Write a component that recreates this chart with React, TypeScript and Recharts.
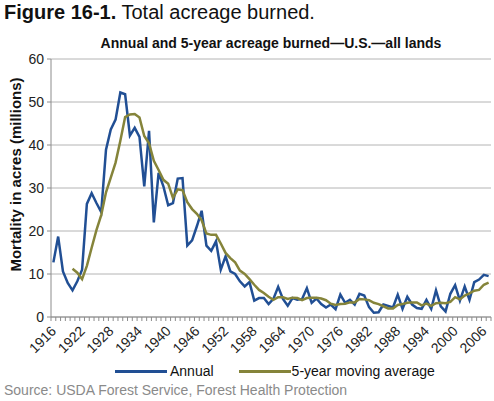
import { LineChart, Line, XAxis, YAxis, CartesianGrid } from 'recharts';

const FONT = '"Liberation Sans", Arial, Helvetica, sans-serif';

const FIRST_YEAR = 1916;
const LAST_YEAR = 2007;
const years = Array.from({ length: LAST_YEAR - FIRST_YEAR + 1 }, (_, i) => FIRST_YEAR + i);

// annual acreage burned, millions (1916-2007)
const annual = [
  12.7, 18.7, 10.6, 7.9, 6.2, 8.3, 11.0, 26.3, 28.8, 26.5,
  24.4, 38.9, 43.6, 45.9, 52.2, 51.8, 42.2, 44.0, 41.9, 30.4,
  43.3, 22.0, 33.5, 30.4, 26.0, 26.5, 32.2, 32.3, 16.6, 17.8,
  21.1, 24.7, 16.6, 15.4, 17.6, 11.0, 14.1, 10.6, 10.0, 8.3,
  7.1, 8.1, 3.8, 4.4, 4.4, 3.0, 4.2, 7.0, 4.2, 2.6,
  4.4, 4.0, 4.2, 6.7, 3.3, 4.3, 3.0, 2.2, 2.9, 1.8,
  5.2, 3.3, 4.0, 2.9, 5.4, 5.0, 2.3, 1.0, 1.1, 2.9,
  2.6, 2.2, 5.2, 1.9, 4.7, 2.9, 2.1, 1.9, 4.0, 1.9,
  6.2, 2.5, 1.3, 5.4, 7.4, 3.8, 7.1, 4.0, 8.1, 8.7,
  9.8, 9.5,
];

// 5-year moving average, starts in 1920
const movingAvg = [
  null, null, null, null, 11.2, 10.3, 8.8, 11.9, 16.1, 20.2,
  23.7, 29.0, 32.4, 35.9, 41.0, 46.5, 47.1, 47.2, 46.4, 42.1,
  40.4, 36.3, 34.2, 31.9, 31.0, 27.7, 29.7, 29.5, 26.7, 25.1,
  24.0, 22.5, 19.4, 19.1, 19.1, 17.1, 14.9, 13.7, 12.7, 10.8,
  10.0, 8.8, 7.5, 6.3, 5.6, 4.7, 4.0, 4.6, 4.6, 4.2,
  4.5, 4.4, 3.9, 4.4, 4.5, 4.5, 4.3, 3.9, 3.1, 2.8,
  3.0, 3.1, 3.4, 3.4, 4.2, 4.1, 3.9, 3.3, 3.0, 2.5,
  2.0, 2.0, 2.8, 3.0, 3.3, 3.4, 3.4, 2.7, 3.1, 2.6,
  3.2, 3.3, 3.2, 3.5, 4.6, 4.1, 5.0, 5.5, 6.1, 6.3,
  7.5, 8.0,
];

const labelYears = [1916, 1922, 1928, 1934, 1940, 1946, 1952, 1958, 1964, 1970, 1976, 1982, 1988, 1994, 2000, 2006];
const yTicks = [0, 10, 20, 30, 40, 50, 60];

const data = years.map((year, i) => ({ year, annual: annual[i], avg: movingAvg[i] }));
// tick marks sit between categories, as in the original spreadsheet chart
const boundaries = [...years.map((y) => y - 0.5), LAST_YEAR + 0.5];

const BLUE = '#214f94';
const OLIVE = '#85843a';

function YearTick(props: any) {
  const { x, y, payload } = props;
  const year = payload.value + 0.5;
  return (
    <g>
      <line x1={x} y1={y} x2={x} y2={y + 4} stroke="#8c8c8c" />
      {labelYears.includes(year) && (
        <text
          transform={`translate(${x + 6},${y + 15}) rotate(-45)`}
          textAnchor="end"
          fontSize={14}
          fontFamily={FONT}
          fill="#222"
        >
          {year}
        </text>
      )}
    </g>
  );
}

export default function App() {
  return (
    <div style={{ position: 'absolute', left: 0, top: 0, width: 494, height: 401, background: '#fff', fontFamily: FONT }}>
      <div style={{ position: 'absolute', left: 4, top: 1, fontSize: 20, color: '#111', whiteSpace: 'nowrap' }}>
        <b>Figure 16-1.</b> Total acreage burned.
      </div>
      <div style={{ position: 'absolute', left: 51, width: 440, top: 35, textAlign: 'center', fontSize: 14, fontWeight: 'bold', color: '#111', whiteSpace: 'nowrap' }}>
        Annual and 5-year acreage burned—U.S.—all lands
      </div>
      <div
        style={{
          position: 'absolute', left: 15, top: 175, width: 240, marginLeft: -120, marginTop: -9,
          textAlign: 'center', fontSize: 15, fontWeight: 'bold', color: '#111', transform: 'rotate(-90deg)', whiteSpace: 'nowrap',
        }}
      >
        Mortality in acres (millions)
      </div>
      <LineChart width={494} height={401} data={data} margin={{ top: 59, right: 3, bottom: 44, left: 0 }} style={{ position: 'absolute', left: 0, top: 0 }}>
        <CartesianGrid horizontal vertical={false} stroke="#b4b4b4" />
        <XAxis
          dataKey="year"
          type="number"
          domain={[FIRST_YEAR - 0.5, LAST_YEAR + 0.5]}
          ticks={boundaries}
          interval={0}
          height={40}
          tickLine={false}
          tickSize={0}
          tickMargin={0}
          tick={<YearTick />}
          axisLine={{ stroke: '#8c8c8c' }}
        />
        <YAxis
          domain={[0, 60]}
          ticks={yTicks}
          width={51}
          tickSize={4}
          tickMargin={3}
          tickLine={{ stroke: '#8c8c8c' }}
          axisLine={{ stroke: '#8c8c8c' }}
          tick={{ fill: '#222', fontSize: 14, fontFamily: FONT }}
        />
        <Line type="linear" dataKey="annual" stroke={BLUE} strokeWidth={2.5} dot={false} isAnimationActive={false} />
        <Line type="linear" dataKey="avg" stroke={OLIVE} strokeWidth={2.5} dot={false} connectNulls={false} isAnimationActive={false} />
      </LineChart>
      <div style={{ position: 'absolute', top: 363, left: 115, display: 'flex', alignItems: 'center', fontSize: 14, color: '#111', whiteSpace: 'nowrap' }}>
        <span style={{ display: 'inline-block', width: 52, height: 3, background: BLUE, marginRight: 3 }} />
        <span>Annual</span>
        <span style={{ display: 'inline-block', width: 52, height: 3, background: OLIVE, marginLeft: 25, marginRight: 1 }} />
        <span>5-year moving average</span>
      </div>
      <div style={{ position: 'absolute', top: 382, left: 4, fontSize: 14, color: '#8a8a8a', whiteSpace: 'nowrap' }}>
        Source: USDA Forest Service, Forest Health Protection
      </div>
    </div>
  );
}
